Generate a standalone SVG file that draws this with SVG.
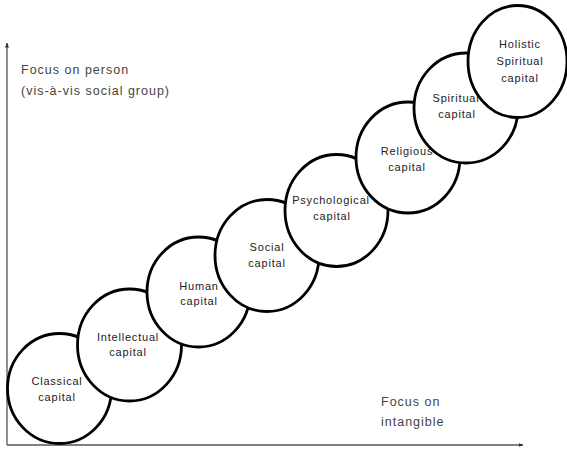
<svg xmlns="http://www.w3.org/2000/svg" width="567" height="450" viewBox="0 0 567 450">
<style>
.c{fill:#fff;stroke:#000;stroke-width:2.8}
.t{font-family:"Liberation Sans",Arial,sans-serif;font-size:11px;letter-spacing:0.8px;fill:#222;text-anchor:middle}
.ax{stroke:#555;stroke-width:1.3;fill:none}
.lb{font-family:"Liberation Sans",Arial,sans-serif;font-size:12.5px;letter-spacing:1px;fill:#444}
</style>
<defs>
<marker id="ar" viewBox="0 0 10 10" refX="9" refY="5" markerWidth="5" markerHeight="5" orient="auto" markerUnits="userSpaceOnUse">
<path d="M0,1 L10,5 L0,9 Z" fill="#333"/>
</marker>
</defs>
<rect width="567" height="450" fill="#fff"/>
<g id="axes">
<path class="ax" d="M7,445 L7,43" marker-end="url(#ar)"/>
<path class="ax" d="M7,445 L523,445" marker-end="url(#ar)"/>
<text class="lb" x="21" y="74">Focus on person</text>
<text class="lb" x="21" y="95">(vis-à-vis social group)</text>
<text class="lb" x="381" y="406">Focus on</text>
<text class="lb" x="381" y="426">intangible</text>
</g>
<g id="classical"><ellipse class="c" cx="59.5" cy="388.5" rx="52" ry="55"/><text class="t" x="57" y="385">Classical</text><text class="t" x="57" y="401">capital</text></g>
<g id="intellectual"><ellipse class="c" cx="129.5" cy="345" rx="52" ry="56"/><text class="t" x="128" y="341">Intellectual</text><text class="t" x="128" y="356">capital</text></g>
<g id="human"><ellipse class="c" cx="198.5" cy="292" rx="51.5" ry="55"/><text class="t" x="199" y="290">Human</text><text class="t" x="199" y="305">capital</text></g>
<g id="social"><ellipse class="c" cx="267" cy="255.5" rx="52" ry="56"/><text class="t" x="267" y="251">Social</text><text class="t" x="267" y="267">capital</text></g>
<g id="psychological"><ellipse class="c" cx="336.5" cy="210.5" rx="51.5" ry="56"/><text class="t" x="331" y="204">Psychological</text><text class="t" x="332" y="220">capital</text></g>
<g id="religious"><ellipse class="c" cx="408" cy="157.5" rx="52" ry="55.5"/><text class="t" x="407" y="155">Religious</text><text class="t" x="407" y="171">capital</text></g>
<g id="spiritual"><ellipse class="c" cx="466" cy="108" rx="52" ry="55"/><text class="t" x="456" y="102">Spiritual</text><text class="t" x="457" y="118">capital</text></g>
<g id="holistic"><ellipse class="c" cx="517.5" cy="61.5" rx="49.5" ry="56"/><text class="t" x="520" y="48">Holistic</text><text class="t" x="520" y="65">Spiritual</text><text class="t" x="520" y="82">capital</text></g>
</svg>
